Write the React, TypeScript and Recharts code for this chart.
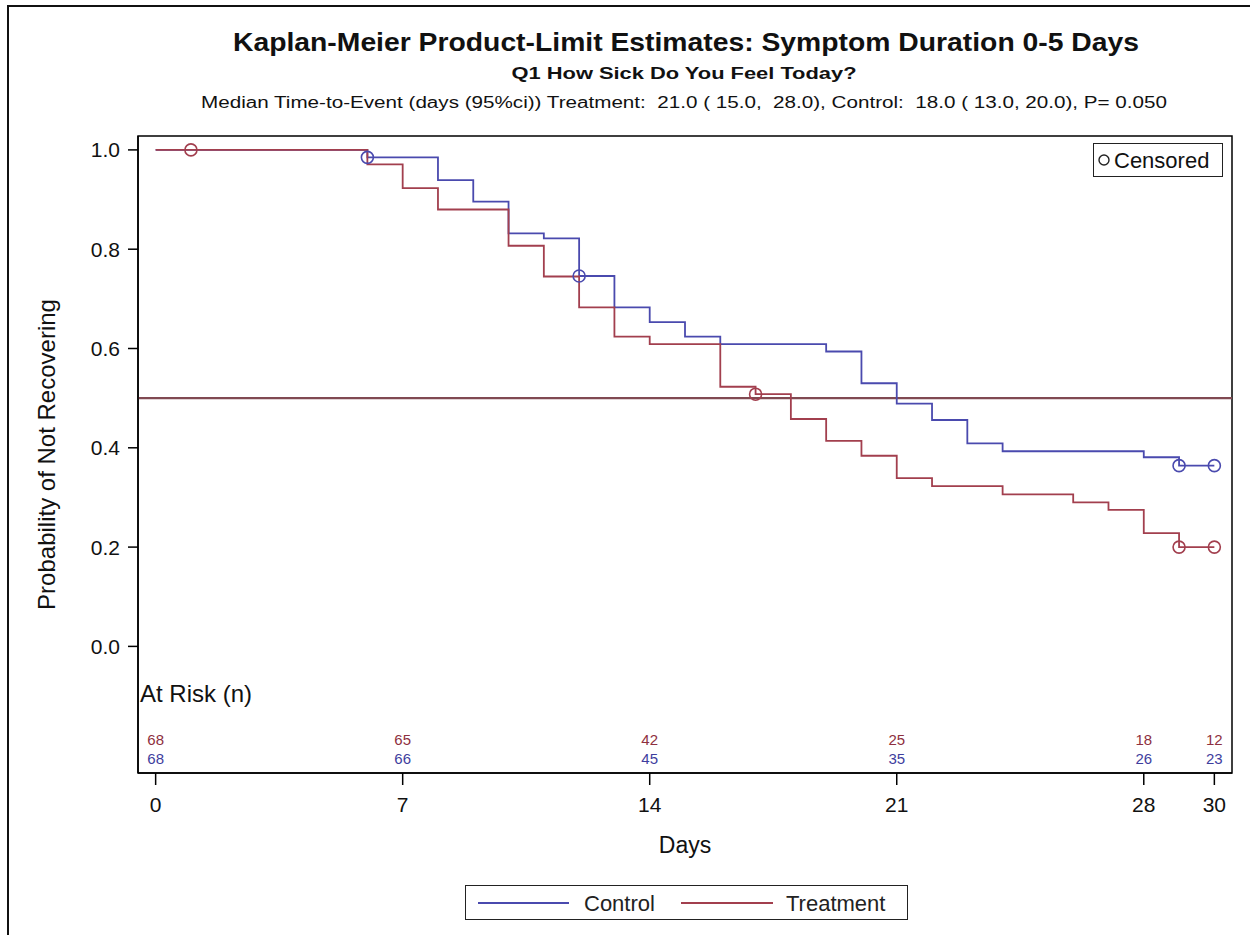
import React from "react";
import {
  ComposedChart,
  Line,
  Scatter,
  XAxis,
  YAxis,
  ReferenceLine,
  ReferenceArea,
  ReferenceDot,
} from "recharts";

// step estimates
const controlTimes = [0, 6, 8, 9, 10, 11, 12, 13, 14, 15, 16, 19, 20, 21, 22, 23, 24, 28, 29, 30];
const controlSurv = [1.0, 0.985, 0.939, 0.896, 0.832, 0.822, 0.746, 0.683, 0.653, 0.624, 0.609, 0.594, 0.53, 0.489, 0.456, 0.409, 0.393, 0.381, 0.364, 0.364];
const treatTimes = [0, 6, 7, 8, 10, 11, 12, 13, 14, 16, 17, 18, 19, 20, 21, 22, 24, 26, 27, 28, 29, 30];
const treatSurv = [1.0, 0.971, 0.923, 0.88, 0.807, 0.745, 0.683, 0.624, 0.609, 0.523, 0.508, 0.458, 0.414, 0.384, 0.339, 0.323, 0.306, 0.29, 0.275, 0.228, 0.2, 0.2];

const controlCensored = [6, 12, 29, 30];
const treatCensored = [1, 17, 29, 30];

const riskDays = [0, 7, 14, 21, 28, 30];
const riskTreat = [68, 65, 42, 25, 18, 12];
const riskControl = [68, 66, 45, 35, 26, 23];

const xTicks = [0, 7, 14, 21, 28, 30];
const yTicks = [0, 0.2, 0.4, 0.6, 0.8, 1.0];

const CONTROL = "#4a4aae";
const TREAT = "#a23f4e";
const FONT = "'Liberation Sans', Arial, sans-serif";

// y positions (in axis units) of the at-risk rows under the curves
const ROW_TREAT = -0.187;
const ROW_CONTROL = -0.226;

const survAt = (times: number[], surv: number[], t: number) => {
  let v = surv[0];
  times.forEach((tt, i) => {
    if (tt <= t) v = surv[i];
  });
  return v;
};

const censorShape = (color: string) => (p: any) => (
  <circle cx={p.cx} cy={p.cy} r={6} fill="none" stroke={color} strokeWidth={1.6} />
);

const riskShape = (color: string) => (p: any) => (
  <text
    x={p.cx}
    y={p.cy}
    textAnchor="middle"
    dominantBaseline="central"
    fontSize={15}
    fontFamily={FONT}
    fill={color}
  >
    {p.payload.n}
  </text>
);

export default function App() {
  const controlData = controlTimes.map((t, i) => ({ t, s: controlSurv[i] }));
  const treatData = treatTimes.map((t, i) => ({ t, s: treatSurv[i] }));
  const controlCens = controlCensored.map((t) => ({ t, s: survAt(controlTimes, controlSurv, t) }));
  const treatCens = treatCensored.map((t) => ({ t, s: survAt(treatTimes, treatSurv, t) }));
  const riskT = riskDays.map((t, i) => ({ t, s: ROW_TREAT, n: riskTreat[i] }));
  const riskC = riskDays.map((t, i) => ({ t, s: ROW_CONTROL, n: riskControl[i] }));

  return (
    <div
      style={{
        position: "absolute",
        left: 0,
        top: 0,
        width: 1250,
        height: 935,
        background: "#fff",
        overflow: "hidden",
        fontFamily: FONT,
      }}
    >
      <ComposedChart
        width={1250}
        height={935}
        margin={{ top: 136, right: 18, bottom: 102, left: 0 }}
      >
        <XAxis
          type="number"
          dataKey="t"
          domain={[-0.5, 30.5]}
          ticks={xTicks}
          allowDataOverflow
          height={60}
          tickSize={12}
          tickMargin={12}
          axisLine={{ stroke: "#000", strokeWidth: 1.5 }}
          tickLine={{ stroke: "#000", strokeWidth: 1.5 }}
          tick={{ fill: "#111", fontSize: 21, fontFamily: FONT }}
          label={{ value: "Days", position: "bottom", offset: 4, fill: "#111", fontSize: 23, fontFamily: FONT }}
        />
        <YAxis
          type="number"
          domain={[-0.255, 1.028]}
          ticks={yTicks}
          allowDataOverflow
          width={138}
          tickSize={10}
          tickMargin={8}
          tickFormatter={(v: number) => v.toFixed(1)}
          axisLine={{ stroke: "#000", strokeWidth: 1.5 }}
          tickLine={{ stroke: "#000", strokeWidth: 1.5 }}
          tick={{ fill: "#111", fontSize: 21, fontFamily: FONT }}
          label={{
            value: "Probability of Not Recovering",
            angle: -90,
            position: "insideLeft",
            offset: 46,
            fill: "#111",
            fontSize: 24,
            fontFamily: FONT,
            style: { textAnchor: "middle" },
          }}
        />
        <ReferenceArea
          x1={-0.5}
          x2={30.5}
          y1={-0.255}
          y2={1.028}
          fill="none"
          stroke="#000"
          strokeWidth={1.5}
          ifOverflow="visible"
        />
        <ReferenceLine y={0.5} stroke="#804a52" strokeWidth={2.2} />
        <ReferenceDot
          x={-0.5}
          y={-0.095}
          r={0}
          fill="none"
          stroke="none"
          ifOverflow="visible"
          label={{ value: "At Risk (n)", position: "right", offset: 2, fill: "#111", fontSize: 24, fontFamily: FONT }}
        />
        <Line
          data={controlData}
          dataKey="s"
          type="stepAfter"
          stroke={CONTROL}
          strokeWidth={1.8}
          dot={false}
          isAnimationActive={false}
        />
        <Line
          data={treatData}
          dataKey="s"
          type="stepAfter"
          stroke={TREAT}
          strokeWidth={1.8}
          dot={false}
          isAnimationActive={false}
        />
        <Scatter data={controlCens} dataKey="s" shape={censorShape(CONTROL)} isAnimationActive={false} />
        <Scatter data={treatCens} dataKey="s" shape={censorShape(TREAT)} isAnimationActive={false} />
        <Scatter data={riskT} dataKey="s" shape={riskShape("#8e3040")} isAnimationActive={false} />
        <Scatter data={riskC} dataKey="s" shape={riskShape("#3e3e9e")} isAnimationActive={false} />
      </ComposedChart>

      {/* titles */}
      <svg style={{ position: "absolute", left: 0, top: 0 }} width={1250} height={120}>
        <text x={686} y={51} textAnchor="middle" fontSize={26} fontWeight="bold" fill="#111" fontFamily={FONT} textLength={906} lengthAdjust="spacingAndGlyphs">
          Kaplan-Meier Product-Limit Estimates: Symptom Duration 0-5 Days
        </text>
        <text x={684} y={79} textAnchor="middle" fontSize={16} fontWeight="bold" fill="#111" fontFamily={FONT} textLength={345} lengthAdjust="spacingAndGlyphs">
          Q1 How Sick Do You Feel Today?
        </text>
        <text x={684} y={108} textAnchor="middle" fontSize={16} fill="#111" fontFamily={FONT} textLength={966} lengthAdjust="spacingAndGlyphs" style={{ whiteSpace: "pre" }}>
          {"Median Time-to-Event (days (95%ci)) Treatment:  21.0 ( 15.0,  28.0), Control:  18.0 ( 13.0, 20.0), P= 0.050"}
        </text>
      </svg>

      {/* outer frame */}
      <div
        style={{
          position: "absolute",
          left: 7,
          top: 5,
          width: 1260,
          height: 950,
          borderTop: "2px solid #111",
          borderLeft: "2px solid #111",
          pointerEvents: "none",
        }}
      />

      {/* censored key */}
      <div
        style={{
          position: "absolute",
          left: 1093,
          top: 143,
          width: 128,
          height: 32,
          border: "1.5px solid #222",
          background: "#fff",
        }}
      >
        <svg width={128} height={32}>
          <circle cx={10} cy={16} r={5} fill="none" stroke="#222" strokeWidth={1.4} />
          <text x={20} y={24} fontSize={22} fill="#111" fontFamily={FONT}>
            Censored
          </text>
        </svg>
      </div>

      {/* series legend */}
      <div
        style={{
          position: "absolute",
          left: 465,
          top: 885,
          width: 441,
          height: 33,
          border: "1.5px solid #222",
          background: "#fff",
        }}
      >
        <svg width={441} height={33}>
          <line x1={12} x2={103} y1={17} y2={17} stroke={CONTROL} strokeWidth={1.8} />
          <text x={118} y={25} fontSize={22} fill="#222" fontFamily={FONT}>
            Control
          </text>
          <line x1={215} x2={307} y1={17} y2={17} stroke={TREAT} strokeWidth={1.8} />
          <text x={320} y={25} fontSize={22} fill="#222" fontFamily={FONT}>
            Treatment
          </text>
        </svg>
      </div>
    </div>
  );
}
